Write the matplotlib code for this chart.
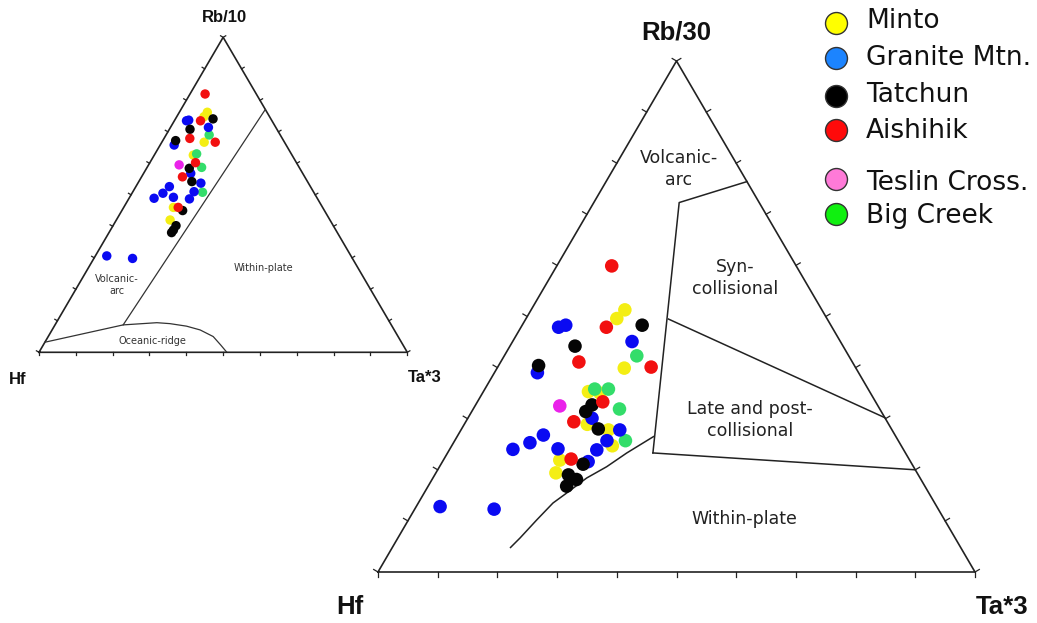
import matplotlib
matplotlib.use("Agg")
import matplotlib.pyplot as plt
import numpy as np

W, H = 1037, 623

# compositions as fractions: (Ta*3, Rb), Hf = 1 - Ta - Rb
# --- main diagram: Hf - Rb/30 - Ta*3
minto_ta30 = [0.157, 0.152, 0.213, 0.176, 0.197, 0.206, 0.247, 0.195, 0.201, 0.269]
minto_rb30 = [0.513, 0.496, 0.399, 0.353, 0.350, 0.289, 0.278, 0.219, 0.194, 0.247]
granite_ta30 = [0.063, 0.073, 0.200, 0.072, 0.208, 0.266, 0.143, 0.128, 0.106, 0.181, 0.255, 0.247, 0.244, 0.040, 0.133]
granite_rb30 = [0.479, 0.483, 0.451, 0.390, 0.301, 0.278, 0.268, 0.253, 0.240, 0.241, 0.257, 0.239, 0.216, 0.128, 0.123]
tatchun_ta30 = [0.201, 0.109, 0.067, 0.195, 0.191, 0.229, 0.238, 0.224, 0.242, 0.232]
tatchun_rb30 = [0.483, 0.442, 0.404, 0.327, 0.314, 0.280, 0.211, 0.190, 0.181, 0.168]
aishihik_ta30 = [0.092, 0.143, 0.131, 0.257, 0.210, 0.181, 0.213]
aishihik_rb30 = [0.599, 0.479, 0.411, 0.401, 0.333, 0.294, 0.221]
teslin_ta30 = [0.142]
teslin_rb30 = [0.325]
bigcreek_ta30 = [0.222, 0.184, 0.207, 0.245, 0.286]
bigcreek_rb30 = [0.423, 0.358, 0.358, 0.319, 0.257]

# --- inset diagram: Hf - Rb/10 - Ta*3
minto_ta10 = [0.076, 0.074, 0.115, 0.106, 0.135, 0.146]
minto_rb10 = [0.762, 0.748, 0.667, 0.626, 0.460, 0.420]
granite_ta10 = [0.033, 0.038, 0.103, 0.038, 0.128, 0.171, 0.091, 0.084, 0.068, 0.119, 0.166, 0.165, 0.031, 0.105]
granite_rb10 = [0.735, 0.737, 0.714, 0.658, 0.568, 0.537, 0.526, 0.505, 0.489, 0.492, 0.510, 0.487, 0.306, 0.298]
tatchun_ta10 = [0.102, 0.056, 0.035, 0.116, 0.144, 0.165, 0.171, 0.171, 0.170]
tatchun_rb10 = [0.741, 0.708, 0.672, 0.584, 0.542, 0.450, 0.402, 0.388, 0.380]
aishihik_ta10 = [0.041, 0.071, 0.070, 0.145, 0.124, 0.111, 0.148]
aishihik_rb10 = [0.820, 0.735, 0.679, 0.667, 0.602, 0.557, 0.460]
teslin_ta10 = [0.083]
teslin_rb10 = [0.595]
bigcreek_ta10 = [0.117, 0.113, 0.148, 0.190]
bigcreek_rb10 = [0.690, 0.630, 0.587, 0.508]

# field boundaries (Ta*3, Rb)
arc_curve_ta = [0.198, 0.2046, 0.2149, 0.2256, 0.2388, 0.2576, 0.280, 0.3002, 0.329]
arc_curve_rb = [0.048, 0.0665, 0.1018, 0.135, 0.1546, 0.184, 0.206, 0.2329, 0.265]
syn_ta = [0.344, 0.143, 0.236]
syn_rb = [0.233, 0.723, 0.764]
late_ta = [0.239, 0.698]
late_rb = [0.495, 0.302]
wp_ta = [0.344, 0.800]
wp_rb = [0.233, 0.200]

wp10_ta = [0.185, 0.229]
wp10_rb = [0.087, 0.771]
ridge_ta = [0.0, 0.185, 0.273, 0.310, 0.359, 0.402, 0.448, 0.482, 0.510]
ridge_rb = [0.032, 0.087, 0.094, 0.091, 0.083, 0.071, 0.050, 0.023, 0.0]

names = ["Minto", "Granite Mtn.", "Tatchun", "Aishihik", "Teslin Cross.", "Big Creek"]
dot_colors = ["#f4ee14", "#0a0af2", "#050505", "#f21010", "#ea22ea", "#33dd6a"]
legend_colors = ["#ffff00", "#1c84ff", "#000000", "#ff0a0a", "#ff7ad8", "#10f010"]


def tern(ta, rb):
    ta = np.asarray(ta)
    rb = np.asarray(rb)
    return ta + rb / 2, rb


def px_text(x, y, s, **kw):
    fig.text(x / W, 1 - y / H, s, ha="center", va="center", **kw)


def make_tri(left, top, right, bottom, tick_len):
    w = right - left
    h = bottom - top
    ax = fig.add_axes([left / W, (H - bottom) / H, w / W, h / H])
    ax.set_xlim(0, 1)
    ax.set_ylim(0, 1)
    ax.axis("off")
    ax.plot([0, 1, 0.5, 0], [0, 0, 1, 0], color="#222222", lw=1.2,
            clip_on=False, solid_joinstyle="miter")
    # ticks, outward from each edge
    norm = np.hypot(h, 0.5 * w)
    edges = [((0, 0), (1, 0), (0, -1)),
             ((1, 0), (0.5, 1), (h / norm, 0.5 * w / norm)),
             ((0.5, 1), (0, 0), (-h / norm, 0.5 * w / norm))]
    for (x0, y0), (x1, y1), (nx, ny) in edges:
        for t in np.linspace(0, 1, 11):
            px = x0 + (x1 - x0) * t
            py = y0 + (y1 - y0) * t
            ax.plot([px, px + nx * tick_len / w], [py, py + ny * tick_len / h],
                    color="#222222", lw=0.9, clip_on=False)
    return ax


fig = plt.figure(figsize=(W / 100, H / 100), dpi=100)

# ---------- main diagram
ax1 = make_tri(378, 61, 975, 572, 5)
for ta, rb in [(arc_curve_ta, arc_curve_rb), (syn_ta, syn_rb),
               (late_ta, late_rb), (wp_ta, wp_rb)]:
    ax1.plot(*tern(ta, rb), color="#222222", lw=1.1)

series30 = [(minto_ta30, minto_rb30, 0), (bigcreek_ta30, bigcreek_rb30, 5),
            (granite_ta30, granite_rb30, 1), (tatchun_ta30, tatchun_rb30, 2),
            (aishihik_ta30, aishihik_rb30, 3), (teslin_ta30, teslin_rb30, 4)]
for ta, rb, i in series30:
    ax1.scatter(*tern(ta, rb), s=95, color=dot_colors[i], edgecolors="none",
                zorder=3, clip_on=False)

f_main = dict(fontsize=12.5, color="#222222", family="DejaVu Sans", linespacing=1.3)
px_text(679, 169, "Volcanic-\narc", **f_main)
px_text(735, 278, "Syn-\ncollisional", **f_main)
px_text(750, 420, "Late and post-\ncollisional", **f_main)
px_text(744, 519, "Within-plate", **f_main)

f_ax = dict(fontsize=18.5, fontweight="bold", family="Liberation Sans", color="#111111")
px_text(676, 33, "Rb/30", **f_ax)
px_text(350, 607, "Hf", **f_ax)
px_text(1002, 607, "Ta*3", **f_ax)

# ---------- inset diagram
ax2 = make_tri(39, 37.3, 407.3, 352.3, 3)
ax2.plot(*tern(wp10_ta, wp10_rb), color="#333333", lw=0.9)
ax2.plot(*tern(ridge_ta, ridge_rb), color="#333333", lw=0.9)

series10 = [(minto_ta10, minto_rb10, 0), (bigcreek_ta10, bigcreek_rb10, 5),
            (granite_ta10, granite_rb10, 1), (tatchun_ta10, tatchun_rb10, 2),
            (aishihik_ta10, aishihik_rb10, 3), (teslin_ta10, teslin_rb10, 4)]
for ta, rb, i in series10:
    ax2.scatter(*tern(ta, rb), s=46, color=dot_colors[i], edgecolors="none",
                zorder=3, clip_on=False)

f_small = dict(fontsize=7, color="#333333", family="DejaVu Sans", linespacing=1.3)
px_text(117, 285, "Volcanic-\narc", **f_small)
px_text(263, 268, "Within-plate", **f_small)
px_text(152, 341, "Oceanic-ridge", **f_small)

f_ax2 = dict(fontsize=12, fontweight="bold", family="Liberation Sans", color="#111111")
px_text(224, 18, "Rb/10", **f_ax2)
px_text(18, 380, "Hf", **f_ax2)
px_text(425, 378, "Ta*3", **f_ax2)

# ---------- legend
lax = fig.add_axes([0, 0, 1, 1])
lax.set_xlim(0, W)
lax.set_ylim(H, 0)
lax.axis("off")
legend_y = [23, 58, 96, 130, 179, 214]
text_base = [28.5, 65, 102, 138, 190, 223]
for name, col, y, tb in zip(names, legend_colors, legend_y, text_base):
    lax.scatter([836], [y], s=250, color=col, edgecolors="#333333", linewidths=1.0)
    lax.text(866, tb, name, fontsize=19, family="DejaVu Sans", color="#111111",
             ha="left", va="baseline")

fig.savefig("out.png", dpi=100)
